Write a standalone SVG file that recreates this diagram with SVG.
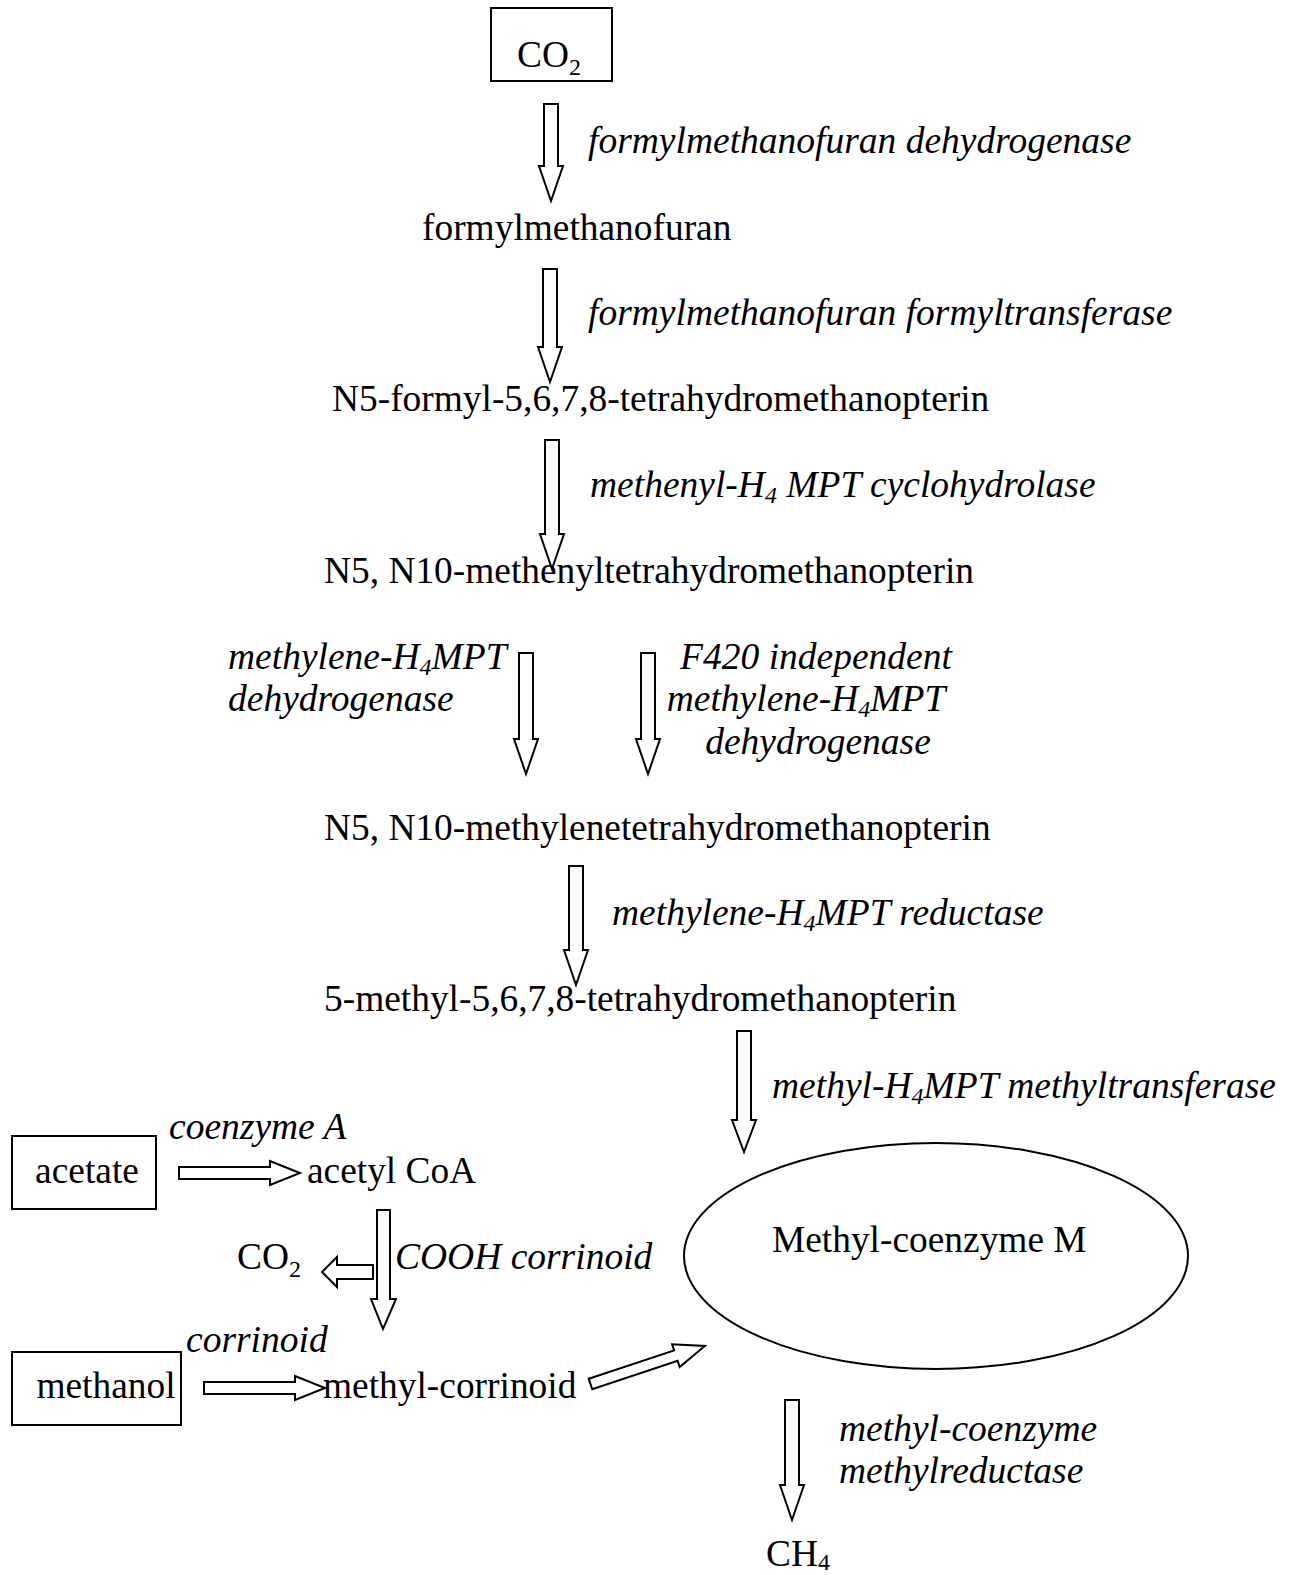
<svg xmlns="http://www.w3.org/2000/svg" width="1293" height="1575" viewBox="0 0 1293 1575">
<style>
text{font-family:"Liberation Serif","Times New Roman",serif;font-size:37.4px;fill:#000}
.it{font-style:italic;font-size:37.5px}
.sub{font-size:24px}
.box{fill:none;stroke:#000;stroke-width:2}
.arr{fill:#fff;stroke:#000;stroke-width:2;stroke-linejoin:miter}
</style>
<rect width="1293" height="1575" fill="#fff"/>
<g id="connectors">
<polygon class="arr" points="544,104 558,104 558,166 563,166 551,201 539,166 544,166"/>
<polygon class="arr" points="543,269 557,269 557,347 562,347 550,382 538,347 543,347"/>
<polygon class="arr" points="545,440 559,440 559,534 564,534 552,569 540,534 545,534"/>
<polygon class="arr" points="519,653 533,653 533,739 538,739 526,774 514,739 519,739"/>
<polygon class="arr" points="641,653 655,653 655,739 660,739 648,774 636,739 641,739"/>
<polygon class="arr" points="569,866 583,866 583,950 588,950 576,985 564,950 569,950"/>
<polygon class="arr" points="737,1031 751,1031 751,1120 756,1120 744,1152 732,1120 737,1120"/>
<polygon class="arr" points="377,1210 390,1210 390,1299 396,1299 383,1329 371,1299 377,1299"/>
<polygon class="arr" points="785,1400 799,1400 799,1485 804,1485 792,1520 780,1485 785,1485"/>
<polygon class="arr" points="179,1167 270,1167 270,1161 300,1173 270,1185 270,1179 179,1179"/>
<polygon class="arr" points="204,1382 295,1382 295,1376 325,1388 295,1400 295,1394 204,1394"/>
<polygon class="arr" points="373,1265 337,1265 337,1257 322,1272 337,1287 337,1279 373,1279"/>
<polygon class="arr" transform="translate(590.5,1384) rotate(-18.4)" points="0,-5.5 90,-5.5 90,-12 120.5,0 90,12 90,5.5 0,5.5"/>
</g>
<g id="labels">
<text class="it" x="588" y="153">formylmethanofuran dehydrogenase</text>
<text class="it" x="588" y="325">formylmethanofuran formyltransferase</text>
<text class="it" x="590" y="497">methenyl-H<tspan class="sub" dy="6">4</tspan><tspan dy="-6"> MPT cyclohydrolase</tspan></text>
<text class="it" x="228" y="669">methylene-H<tspan class="sub" dy="6">4</tspan><tspan dy="-6">MPT</tspan></text>
<text class="it" x="228" y="711">dehydrogenase</text>
<text class="it" x="816" y="669" text-anchor="middle">F420 independent</text>
<text class="it" x="806" y="711" text-anchor="middle">methylene-H<tspan class="sub" dy="6">4</tspan><tspan dy="-6">MPT</tspan></text>
<text class="it" x="818" y="754" text-anchor="middle">dehydrogenase</text>
<text class="it" x="612" y="925">methylene-H<tspan class="sub" dy="6">4</tspan><tspan dy="-6">MPT reductase</tspan></text>
<text class="it" x="772" y="1098">methyl-H<tspan class="sub" dy="6">4</tspan><tspan dy="-6">MPT methyltransferase</tspan></text>
<text class="it" x="169" y="1139">coenzyme A</text>
<text class="it" x="395" y="1269">COOH corrinoid</text>
<text class="it" x="186" y="1352">corrinoid</text>
<text class="it" x="839" y="1441">methyl-coenzyme</text>
<text class="it" x="839" y="1483">methylreductase</text>
</g>
<g id="node-co2">
<rect class="box" x="491" y="8" width="121" height="73"/>
<text x="517" y="67">CO<tspan class="sub" dy="8">2</tspan></text>
</g>
<g id="node-formylmethanofuran"><text x="422" y="240">formylmethanofuran</text></g>
<g id="node-n5-formyl"><text x="332" y="411">N5-formyl-5,6,7,8-tetrahydromethanopterin</text></g>
<g id="node-methenyl"><text x="324" y="583">N5, N10-methenyltetrahydromethanopterin</text></g>
<g id="node-methylene"><text x="324" y="840">N5, N10-methylenetetrahydromethanopterin</text></g>
<g id="node-methyl"><text x="324" y="1011">5-methyl-5,6,7,8-tetrahydromethanopterin</text></g>
<g id="node-acetate">
<rect class="box" x="12" y="1136" width="144" height="73"/>
<text x="87" y="1183" text-anchor="middle">acetate</text>
</g>
<g id="node-acetylcoa"><text x="307" y="1183">acetyl CoA</text></g>
<g id="node-co2b"><text x="237" y="1269">CO<tspan class="sub" dy="8">2</tspan></text></g>
<g id="node-methanol">
<rect class="box" x="12" y="1352" width="169" height="73"/>
<text x="106" y="1398" text-anchor="middle">methanol</text>
</g>
<g id="node-methylcorrinoid"><text x="323" y="1398">methyl-corrinoid</text></g>
<g id="node-methylcoM">
<ellipse class="box" cx="936" cy="1256" rx="252" ry="113"/>
<text x="772" y="1252">Methyl-coenzyme M</text>
</g>
<g id="node-ch4"><text x="766" y="1566">CH<tspan class="sub" dy="4">4</tspan></text></g>
</svg>
